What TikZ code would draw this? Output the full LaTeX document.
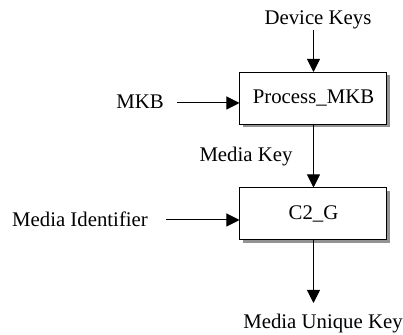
\documentclass[tikz,border=0pt]{standalone}
\usepackage{fontspec}
\setmainfont{Liberation Serif}
\usetikzlibrary{arrows.meta,shadows}

\begin{document}
\begin{tikzpicture}[x=0.5pt,y=-0.5pt,>={Triangle[length=6.5pt,width=6.5pt]},
    bloco/.style={draw,line width=0.5pt,fill=white,minimum width=73.5pt,minimum height=26pt,
      drop shadow={shadow xshift=1.5pt,shadow yshift=-1.5pt,fill=gray!85,opacity=1}},
    rotulo/.style={inner sep=0pt},
    every node/.style={font=\fontsize{10.4}{12}\selectfont},
    fluxo/.style={->,line width=0.5pt}]
  
  % area do desenho
  \useasboundingbox (0,0) rectangle (403,335);
  
  % blocos
  \node[bloco] (pmkb) at (313.5,98.5) {Process\_MKB};
  \node[bloco] (c2g) at (313.5,214) {C2\_G};
  
  % entradas e saida
  \node[rotulo] (dk) at (318,20) {Device Keys};
  \node[rotulo] (mkb) at (140,102) {MKB};
  \node[rotulo] (mk) at (246,157) {Media Key};
  \node[rotulo] (mid) at (80,219) {Media Identifier};
  \node[rotulo] (muk) at (323,324) {Media Unique Key};
  
  \coordinate (dkin) at (313.5,30);
  \coordinate (mkbin) at (177,103);
  \coordinate (midin) at (166,220);
  \coordinate (mukout) at (313.5,303);
  
  % setas
  \draw[fluxo] (dkin) -- (pmkb.north);
  \draw[fluxo] (mkbin) -- (mkbin -| pmkb.west);
  \draw[fluxo] (pmkb.south) -- (c2g.north);
  \draw[fluxo] (midin) -- (midin -| c2g.west);
  \draw[fluxo] (c2g.south) -- (mukout);
  
\end{tikzpicture}
\end{document}
